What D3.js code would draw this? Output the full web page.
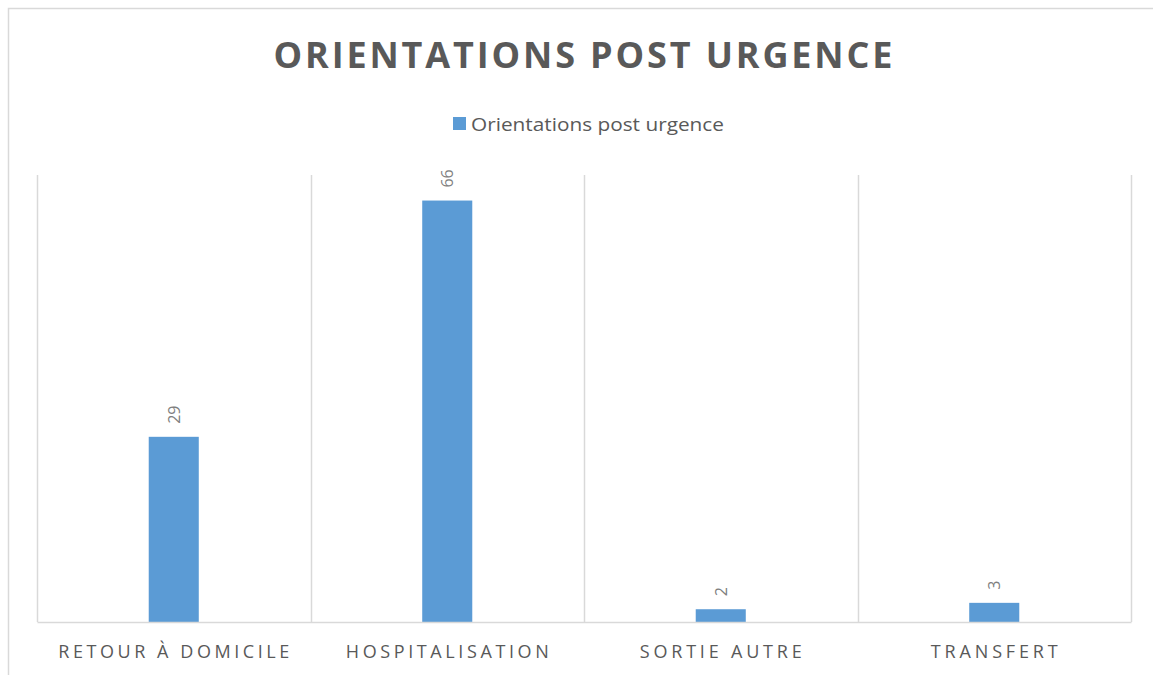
<!DOCTYPE html>
<html>
<head>
<meta charset="utf-8">
<script src="https://cdn.jsdelivr.net/npm/d3@7"></script>
<style>
  body { margin: 0; background: #fff; }
  svg text { font-family: "Open Sans", sans-serif; }
</style>
</head>
<body>
<div id="chart"></div>
<script>
// size of the page
const WIDTH = 1153;
const HEIGHT = 675;
// plot area
const MARGIN = { TOP: 175, RIGHT: 22, BOTTOM: 53, LEFT: 37 };

// data
const categories = ["RETOUR À DOMICILE", "HOSPITALISATION", "SORTIE AUTRE", "TRANSFERT"];
const values = [29, 66, 2, 3];
const seriesName = "Orientations post urgence";
const yMax = 70;

const BLUE = "#5B9BD5";
const GRID = "#d9d9d9";
const TEXT = "#595959";

let data = categories.map((c, i) => ({ cat: c, value: values[i] }));

let svg = d3.select("#chart")
    .append("svg")
    .attr("width", WIDTH)
    .attr("height", HEIGHT);

// outer chart frame (runs off the page on right/bottom)
svg.append("rect")
    .attr("x", 8.5)
    .attr("y", 8.5)
    .attr("width", WIDTH + 20)
    .attr("height", HEIGHT + 20)
    .attr("fill", "none")
    .attr("stroke", GRID)
    .attr("stroke-width", 1.5);

let xScale = d3.scaleBand()
    .domain(categories)
    .range([MARGIN.LEFT, WIDTH - MARGIN.RIGHT])
    .padding(0);

let yScale = d3.scaleLinear()
    .domain([0, yMax])
    .range([HEIGHT - MARGIN.BOTTOM, MARGIN.TOP]);

// vertical separators between categories
let bounds = categories.map(c => xScale(c)).concat([xScale.range()[1]]);
svg.append("g")
    .selectAll("line")
    .data(bounds)
    .join("line")
    .attr("x1", d => Math.round(d) + 0.5)
    .attr("x2", d => Math.round(d) + 0.5)
    .attr("y1", yScale(yMax))
    .attr("y2", yScale(0))
    .attr("stroke", GRID)
    .attr("stroke-width", 1.5);

// bars
let barW = xScale.bandwidth() * 0.183;
svg.append("g")
    .selectAll("rect")
    .data(data)
    .join("rect")
    .attr("x", d => xScale(d.cat) + xScale.bandwidth() / 2 - barW / 2)
    .attr("y", d => yScale(d.value))
    .attr("width", barW)
    .attr("height", d => yScale(0) - yScale(d.value))
    .attr("fill", BLUE);

// baseline axis
let xAxis = d3.axisBottom(xScale).tickSize(0).tickPadding(0).tickFormat("");
let axisG = svg.append("g")
    .attr("transform", "translate(0," + yScale(0) + ")")
    .call(xAxis);
axisG.select(".domain").attr("stroke", GRID).attr("stroke-width", 1.5);

// category labels with wide letter spacing
const labelWidths = [231, 203, 162, 127];
svg.append("g")
    .selectAll("text")
    .data(data)
    .join("text")
    .attr("x", d => xScale(d.cat) + xScale.bandwidth() / 2)
    .attr("y", 658)
    .attr("text-anchor", "middle")
    .attr("font-size", 18)
    .attr("fill", TEXT)
    .attr("textLength", (d, i) => labelWidths[i])
    .attr("lengthAdjust", "spacing")
    .text(d => d.cat);

// rotated value labels
svg.append("g")
    .selectAll("text")
    .data(data)
    .join("text")
    .attr("transform", d => "translate(" + (xScale(d.cat) + xScale.bandwidth() / 2 + 6) + "," + (yScale(d.value) - 13) + ") rotate(-90)")
    .attr("text-anchor", "start")
    .attr("font-size", 16)
    .attr("fill", "#7f7f7f")
    .text(d => d.value);

// title
svg.append("text")
    .attr("x", 583)
    .attr("y", 68)
    .attr("text-anchor", "middle")
    .attr("font-size", 36)
    .attr("font-weight", "bold")
    .attr("fill", TEXT)
    .attr("textLength", 619)
    .attr("lengthAdjust", "spacing")
    .text("ORIENTATIONS POST URGENCE");

// legend
let legend = svg.append("g");
legend.append("rect")
    .attr("x", 453)
    .attr("y", 117)
    .attr("width", 13)
    .attr("height", 13)
    .attr("fill", BLUE);
legend.append("text")
    .attr("x", 471)
    .attr("y", 131)
    .attr("font-size", 19)
    .attr("fill", TEXT)
    .attr("textLength", 253)
    .attr("lengthAdjust", "spacingAndGlyphs")
    .text(seriesName);
</script>
</body>
</html>
